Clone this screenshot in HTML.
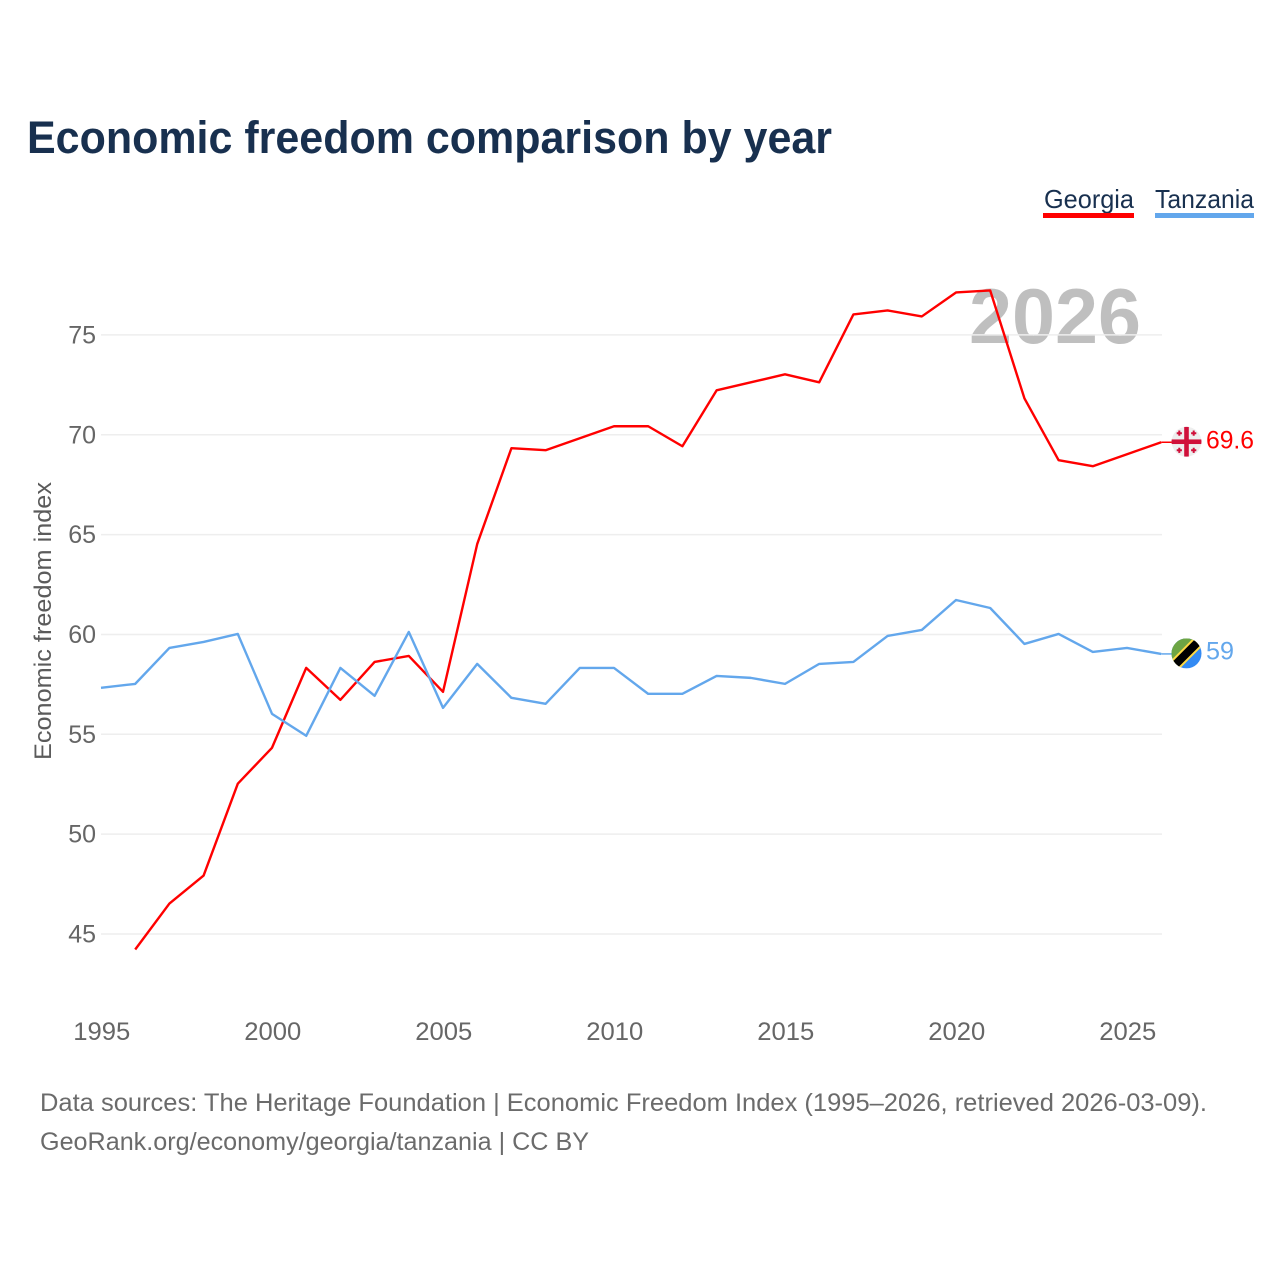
<!DOCTYPE html>
<html lang="en">
<head>
<meta charset="utf-8">
<title>Economic freedom comparison by year</title>
<style>
html,body{margin:0;padding:0;background:#fff;}
svg{display:block;}
text{font-family:"Liberation Sans",sans-serif;}
</style>
</head>
<body>
<svg id="chart" xmlns="http://www.w3.org/2000/svg" width="1280" height="1280" viewBox="0 0 1280 1280">
  <rect width="1280" height="1280" fill="#fff"/>
  <text x="27" y="153" font-size="45" font-weight="700" fill="#18304f" textLength="805" lengthAdjust="spacingAndGlyphs">Economic freedom comparison by year</text>

  <g>
    <text x="1044" y="208" font-size="26" fill="#18304f" textLength="90" lengthAdjust="spacingAndGlyphs">Georgia</text>
    <rect x="1043" y="213" width="91" height="5" fill="#ff0000"/>
  </g>
  <g>
    <text x="1155" y="208" font-size="26" fill="#18304f" textLength="99" lengthAdjust="spacingAndGlyphs">Tanzania</text>
    <rect x="1155" y="213" width="99" height="5" fill="#63a7ec"/>
  </g>

  <text x="969" y="343" font-size="78" font-weight="700" fill="#000" fill-opacity="0.25" textLength="172" lengthAdjust="spacingAndGlyphs">2026</text>

  <g id="grid"></g>
  <g id="yticks"></g>
  <g id="xticks"></g>
  <text transform="translate(51,760) rotate(-90)" x="0" y="0" font-size="24" fill="#5b5b5b" textLength="278" lengthAdjust="spacingAndGlyphs">Economic freedom index</text>
  <g id="series"></g>

  <defs>
    <clipPath id="flag-clip-ge"><circle r="15"/></clipPath>
    <clipPath id="flag-clip-tz"><circle r="15"/></clipPath>
  </defs>
  <g id="flag-ge">
    <g clip-path="url(#flag-clip-ge)">
      <circle r="15" fill="#eeeeee"/>
      <rect x="-2.3" y="-15" width="4.6" height="30" fill="#d0103a"/>
      <rect x="-15" y="-2.3" width="30" height="4.6" fill="#d0103a"/>
      <g fill="#d0103a">
        <rect x="-9.8" y="-9.5" width="5.2" height="2"/><rect x="-8.2" y="-11.2" width="2" height="5.2"/>
        <rect x="4.6" y="-9.5" width="5.2" height="2"/><rect x="6.2" y="-11.2" width="2" height="5.2"/>
        <rect x="-9.8" y="7.5" width="5.2" height="2"/><rect x="-8.2" y="6" width="2" height="5.2"/>
        <rect x="4.6" y="7.5" width="5.2" height="2"/><rect x="6.2" y="6" width="2" height="5.2"/>
      </g>
    </g>
  </g>
  <g id="flag-tz">
    <g clip-path="url(#flag-clip-tz)">
      <rect x="-15" y="-15" width="30" height="30" fill="#338af3"/>
      <polygon points="-15,-15 15,-15 -15,15" fill="#6da544"/>
      <line x1="-16" y1="16" x2="16" y2="-16" stroke="#ffda44" stroke-width="12"/>
      <line x1="-16" y1="16" x2="16" y2="-16" stroke="#000" stroke-width="8"/>
    </g>
  </g>
  <g id="endlabels"></g>

  <text x="40" y="1111" font-size="25" fill="#6b6b6b" textLength="1167" lengthAdjust="spacingAndGlyphs">Data sources: The Heritage Foundation | Economic Freedom Index (1995–2026, retrieved 2026-03-09).</text>
  <text x="40" y="1150" font-size="25" fill="#6b6b6b" textLength="549" lengthAdjust="spacingAndGlyphs">GeoRank.org/economy/georgia/tanzania | CC BY</text>
</svg>
<script>
const years = [1995,1996,1997,1998,1999,2000,2001,2002,2003,2004,2005,2006,2007,2008,2009,2010,2011,2012,2013,2014,2015,2016,2017,2018,2019,2020,2021,2022,2023,2024,2025,2026];
const georgiaValues = [null,44.2,46.5,47.9,52.5,54.3,58.3,56.7,58.6,58.9,57.1,64.5,69.3,69.2,69.8,70.4,70.4,69.4,72.2,72.6,73.0,72.6,76.0,76.2,75.9,77.1,77.2,71.8,68.7,68.4,69.0,69.6];
const tanzaniaValues = [57.3,57.5,59.3,59.6,60.0,56.0,54.9,58.3,56.9,60.1,56.3,58.5,56.8,56.5,58.3,58.3,57.0,57.0,57.9,57.8,57.5,58.5,58.6,59.9,60.2,61.7,61.3,59.5,60.0,59.1,59.3,59.0];
const yTickValues = [45,50,55,60,65,70,75];
const xTickValues = [1995,2000,2005,2010,2015,2020,2025];

const NS = 'http://www.w3.org/2000/svg';
function xScale(year){ return 101 + (year - 1995) * 34.2; }
function yScale(value){ return 934 - (value - 45) * 19.97; }
function lineY(value){ return yScale(value) - 0.5; }
function make(tag, attrs, parent, text){
  const el = document.createElementNS(NS, tag);
  for (const k in attrs) el.setAttribute(k, attrs[k]);
  if (text !== undefined) el.textContent = text;
  parent.appendChild(el);
  return el;
}
function linePath(values){
  let d = '';
  values.forEach(function(v, i){
    if (v === null) return;
    d += (d ? 'L' : 'M') + xScale(years[i]).toFixed(2) + ' ' + lineY(v).toFixed(2);
  });
  return d;
}
const gridG = document.getElementById('grid');
const yG = document.getElementById('yticks');
const xG = document.getElementById('xticks');
yTickValues.forEach(function(v){
  const gl = make('line', {x1:101, x2:1162, y1:yScale(v), y2:yScale(v), stroke:'#eeeeee', 'stroke-width':1.5}, gridG);
  
  
  const t = make('text', {x:96, y:yScale(v)+8.5, 'text-anchor':'end', 'font-size':25, fill:'#666666'}, yG, String(v));
  
  
});
xTickValues.forEach(function(v){
  const t = make('text', {x:xScale(v)+0.8, y:1040, 'text-anchor':'middle', 'font-size':25, fill:'#666666', textLength:57, lengthAdjust:'spacingAndGlyphs'}, xG, String(v));
  
  
});
const seriesG = document.getElementById('series');
const georgiaLine = make('path', {d:linePath(georgiaValues), fill:'none', stroke:'#ff0000', 'stroke-width':2.4, 'stroke-linejoin':'round'}, seriesG);


const tanzaniaLine = make('path', {d:linePath(tanzaniaValues), fill:'none', stroke:'#63a7ec', 'stroke-width':2.4, 'stroke-linejoin':'round'}, seriesG);



const lastX = xScale(years[years.length-1]);
const flagX = 1186.5;
const geLast = georgiaValues[georgiaValues.length-1];
const tzLast = tanzaniaValues[tanzaniaValues.length-1];
const geY = lineY(geLast);
const tzY = lineY(tzLast);
const geConn = make('line', {x1:lastX, x2:1172, y1:geY, y2:geY, stroke:'#ff0000', 'stroke-width':1.5}, seriesG);


const tzConn = make('line', {x1:lastX, x2:1172, y1:tzY, y2:tzY, stroke:'#63a7ec', 'stroke-width':1.5}, seriesG);


document.getElementById('flag-ge').setAttribute('transform', 'translate(' + flagX + ',' + (geY-0.5) + ')');
document.getElementById('flag-tz').setAttribute('transform', 'translate(' + flagX + ',' + (tzY-0.5) + ')');
const labels = document.getElementById('endlabels');
const geLabel = make('text', {x:1206, y:geY+6.5, 'font-size':25, fill:'#ff0000', textLength:48, lengthAdjust:'spacingAndGlyphs'}, labels, String(geLast));


const tzLabel = make('text', {x:1206, y:tzY+5.5, 'font-size':25, fill:'#63a7ec', textLength:28, lengthAdjust:'spacingAndGlyphs'}, labels, String(tzLast));


</script>
</body>
</html>
